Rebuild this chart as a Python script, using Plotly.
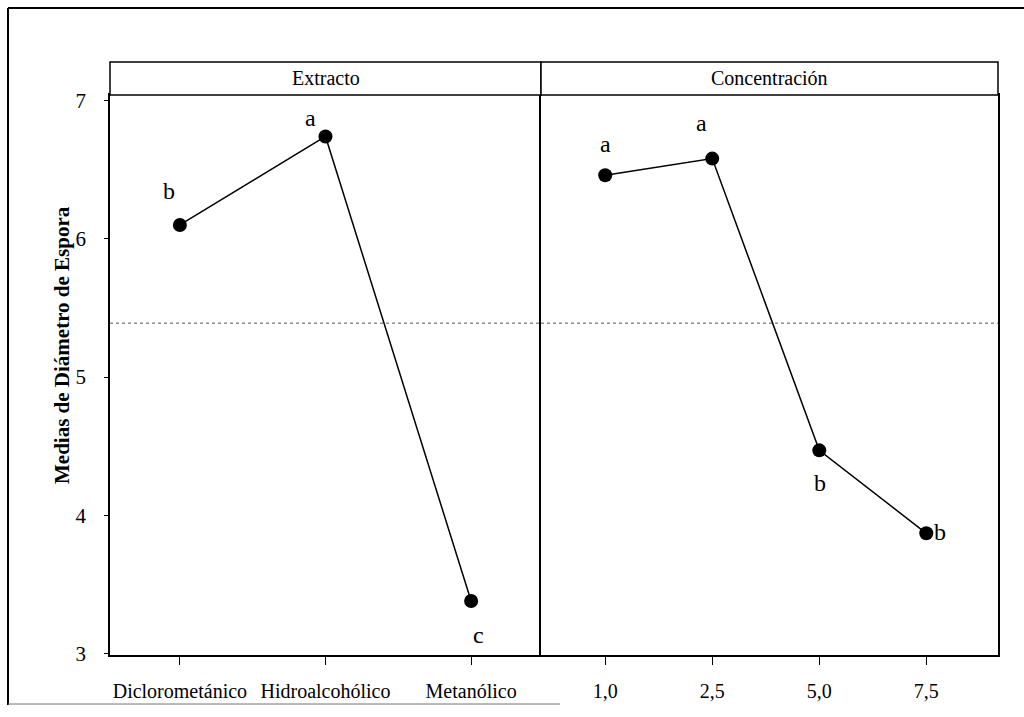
import plotly.graph_objects as go

# ---- data ----
extracto_cats = ["Diclorometánico", "Hidroalcohólico", "Metanólico"]
extracto_means = [6.10, 6.74, 3.38]
extracto_letters = ["b", "a", "c"]

conc_cats = ["1,0", "2,5", "5,0", "7,5"]
conc_means = [6.46, 6.58, 4.47, 3.87]
conc_letters = ["a", "a", "b", "b"]

grand_mean = 5.39
y_ticks = [3, 4, 5, 6, 7]
panel_titles = ["Extracto", "Concentración"]
y_title = "Medias de Diámetro de Espora"

W, H = 1024, 717
def px(x):
    return x / W
def py(y):
    return 1 - y / H

FONT = "Liberation Serif, Times New Roman, serif"

fig = go.Figure()

fig.add_trace(go.Scatter(
    x=list(range(len(extracto_cats))), y=extracto_means, mode="lines+markers",
    line=dict(color="black", width=1.5), marker=dict(color="black", size=14),
    xaxis="x", yaxis="y", showlegend=False, cliponaxis=False))
fig.add_trace(go.Scatter(
    x=list(range(len(conc_cats))), y=conc_means, mode="lines+markers",
    line=dict(color="black", width=1.5), marker=dict(color="black", size=14),
    xaxis="x2", yaxis="y2", showlegend=False, cliponaxis=False))

yr = [2.99, 7.04]
common_y = dict(range=yr, showgrid=False, zeroline=False, showline=True, automargin=False,
                linecolor="black", linewidth=1.5, domain=[py(655), py(95)])
common_x = dict(ticks="outside", ticklen=8, tickcolor="black", showgrid=False, zeroline=False,
                showline=True, mirror=True, linecolor="black", linewidth=1.5, automargin=False,
                tickfont=dict(size=20, family=FONT), ticklabelstandoff=9)
fig.update_layout(
    width=W, height=H,
    margin=dict(l=0, r=0, t=0, b=0, pad=0, autoexpand=False),
    paper_bgcolor="white", plot_bgcolor="white",
    font=dict(family=FONT, color="black", size=16),
    xaxis=dict(domain=[px(110), px(541)], range=[-0.48, 2.48],
               tickmode="array", tickvals=list(range(len(extracto_cats))), ticktext=extracto_cats,
               **common_x),
    xaxis2=dict(domain=[px(541), px(998)], range=[-0.6, 3.67],
                tickmode="array", tickvals=list(range(len(conc_cats))), ticktext=conc_cats,
                **common_x),
    yaxis=dict(anchor="x", tickmode="array", tickvals=y_ticks, mirror=False,
               ticktext=[str(v) for v in y_ticks], ticks="outside", ticklen=4,
               tickcolor="black", tickfont=dict(size=21, family=FONT), ticklabelstandoff=14,
               **common_y),
    yaxis2=dict(anchor="x2", matches="y", showticklabels=False, ticks="", mirror=True,
                **common_y),
)

# y-axis title
fig.add_annotation(xref="paper", yref="paper", x=px(62), y=py(345), text=f"<b>{y_title}</b>",
                   textangle=-90, showarrow=False, xanchor="center", yanchor="middle",
                   font=dict(size=21, family=FONT))

# reference lines (grand mean)
for xr, yr_ in (("x", "y"), ("x2", "y2")):
    fig.add_shape(type="line", xref=f"{xr} domain", yref=yr_, x0=0, x1=1,
                  y0=grand_mean, y1=grand_mean,
                  line=dict(color="#555555", width=1, dash="dot"))

# strip headers
strips = [(110, 541), (541, 998)]
for (x0, x1), title in zip(strips, panel_titles):
    fig.add_shape(type="rect", xref="paper", yref="paper",
                  x0=px(x0), x1=px(x1), y0=py(95), y1=py(62),
                  line=dict(color="black", width=1.5), fillcolor="white")
    fig.add_annotation(xref="paper", yref="paper", x=px((x0 + x1) / 2), y=py(78.5),
                       xanchor="center", yanchor="middle",
                       text=title, showarrow=False, font=dict(size=20, family=FONT))

# significance letters
ext_offsets = [(-11, 34), (-15, 18), (7, -34)]
for i, (lt, (dx, dy)) in enumerate(zip(extracto_letters, ext_offsets)):
    fig.add_annotation(x=i, y=extracto_means[i], xref="x", yref="y", text=lt,
                       showarrow=False, xshift=dx, yshift=dy,
                       font=dict(size=24, family=FONT))
conc_offsets = [(0, 31), (-11, 36), (1, -33), (14, 1)]
for i, (lt, (dx, dy)) in enumerate(zip(conc_letters, conc_offsets)):
    fig.add_annotation(x=i, y=conc_means[i], xref="x2", yref="y2", text=lt,
                       showarrow=False, xshift=dx, yshift=dy,
                       font=dict(size=24, family=FONT))

# outer frame (scanned page border)
fig.add_shape(type="line", xref="paper", yref="paper", x0=px(8), x1=px(8), y0=py(705), y1=py(8),
              line=dict(color="black", width=2))
fig.add_shape(type="line", xref="paper", yref="paper", x0=px(8), x1=px(1024), y0=py(8), y1=py(8),
              line=dict(color="black", width=2))
fig.add_shape(type="line", xref="paper", yref="paper", x0=px(8), x1=px(560), y0=py(704), y1=py(704),
              line=dict(color="#777777", width=1))

fig.write_html("out.html", config={"displayModeBar": False},
               post_script="document.body.style.margin='0';")
